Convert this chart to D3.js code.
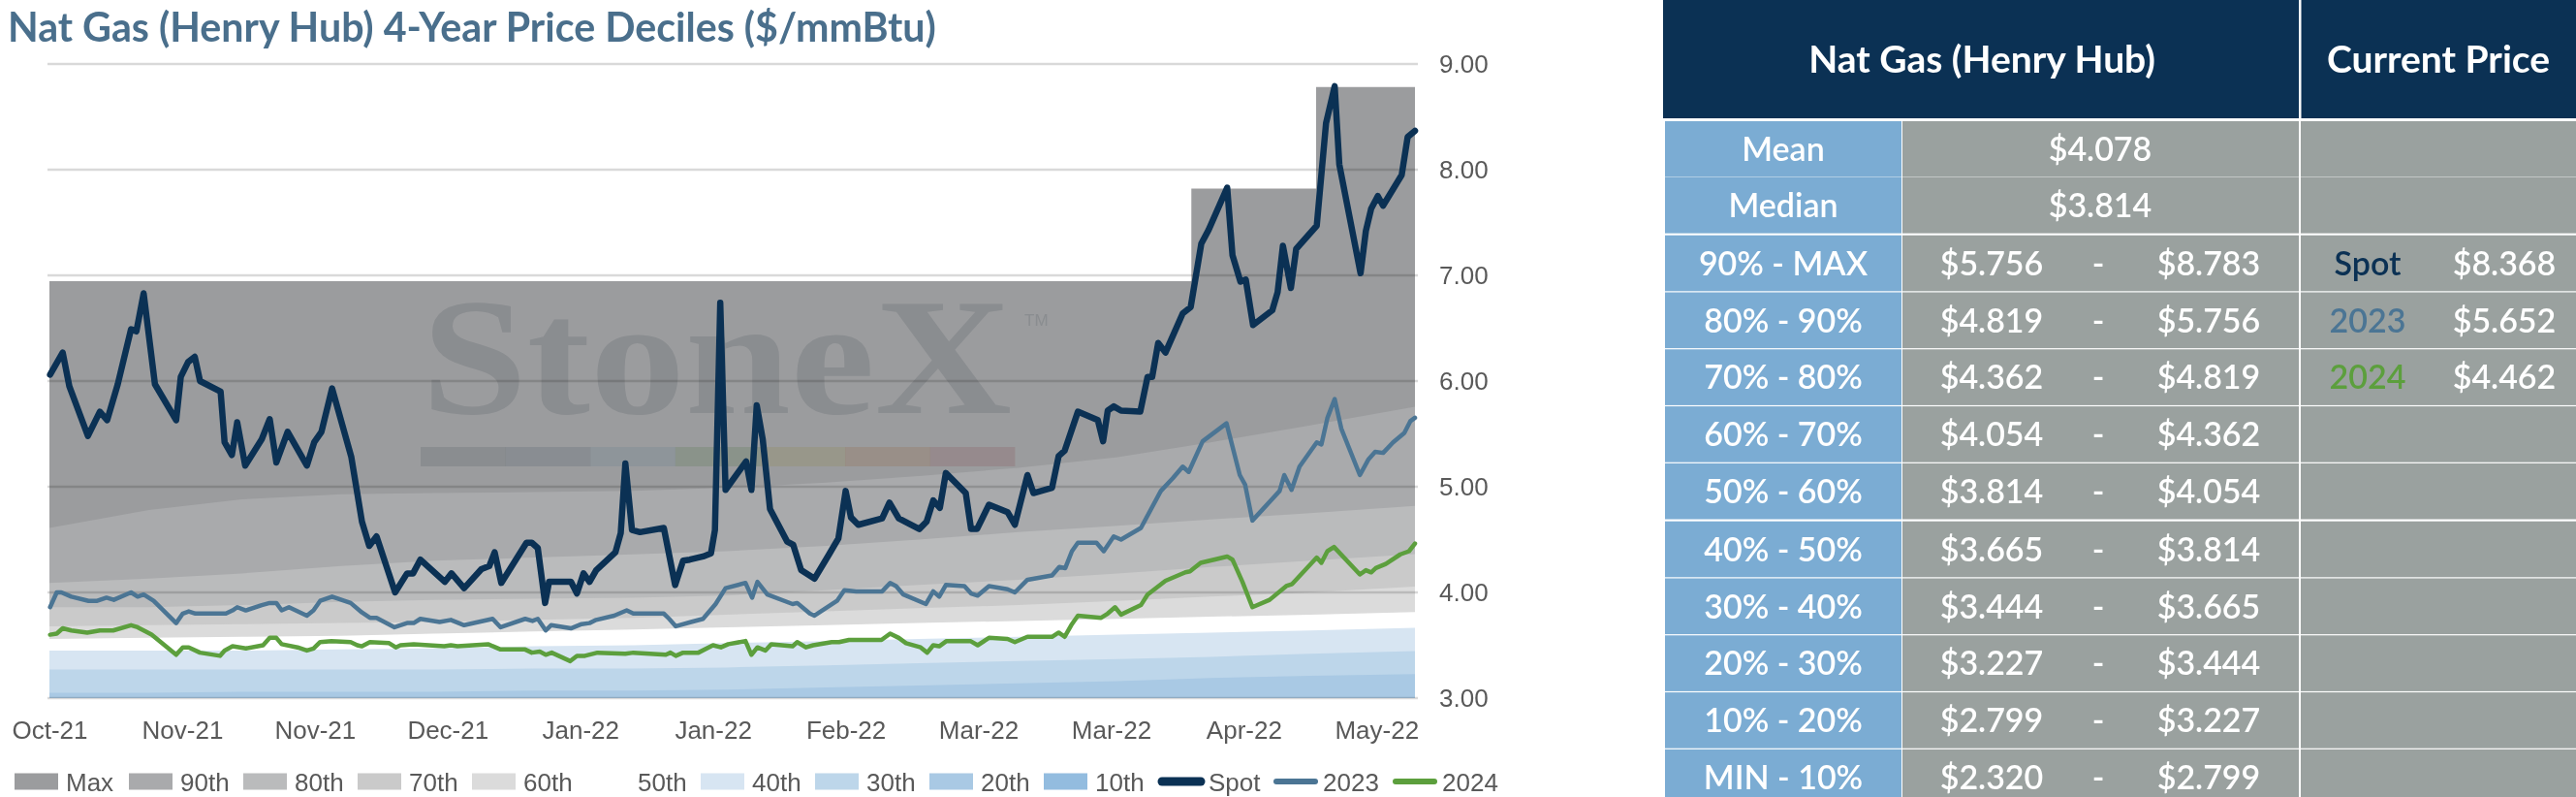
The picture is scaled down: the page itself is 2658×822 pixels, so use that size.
<!DOCTYPE html>
<html><head><meta charset="utf-8">
<script src="https://cdn.jsdelivr.net/npm/d3@7"></script>
<style>
body{margin:0;background:#fff;}
svg{display:block;}
.mult{mix-blend-mode:multiply;}
</style></head>
<body>
<svg id="c" width="2658" height="822"></svg>
<script>
// ---------------- DATA ----------------
const titleText = "Nat Gas (Henry Hub) 4-Year Price Deciles ($/mmBtu)";
const xTickDays = [0,20,40,60,80,100,120,140,160,180,200];
const xTickLabels = ["Oct-21","Nov-21","Nov-21","Dec-21","Jan-22","Jan-22","Feb-22","Mar-22","Mar-22","Apr-22","May-22"];
const yTicks = [3,4,5,6,7,8,9];
const dayEnd = 205.8;

// rolling max (step)
const maxDays = [0,172.1,190.9,205.8];
const maxVals = [6.945,7.82,8.783,8.783];

// rolling decile boundaries
const bandDays = [0,15,29,44,58,73,88,102,117,131,146,161,175,190,205.8];
const p90 = [4.61,4.78,4.88,4.93,4.94,4.95,4.96,4.99,5.04,5.10,5.18,5.28,5.42,5.58,5.756];
const p80 = [4.09,4.13,4.18,4.25,4.30,4.33,4.36,4.39,4.44,4.50,4.57,4.63,4.69,4.75,4.819];
const p70 = [3.86,3.86,3.88,3.91,3.93,3.94,3.95,3.97,4.02,4.07,4.12,4.18,4.24,4.30,4.362];
const p60 = [3.68,3.69,3.70,3.71,3.72,3.74,3.76,3.79,3.82,3.85,3.88,3.92,3.96,4.00,4.054];
const p50 = [3.56,3.57,3.58,3.59,3.61,3.63,3.65,3.67,3.69,3.71,3.73,3.75,3.77,3.79,3.814];
const p40 = [3.45,3.45,3.45,3.46,3.47,3.49,3.50,3.52,3.54,3.56,3.58,3.60,3.62,3.64,3.665];
const p30 = [3.27,3.27,3.27,3.27,3.27,3.28,3.28,3.29,3.31,3.33,3.35,3.37,3.39,3.42,3.444];
const p20 = [3.05,3.05,3.06,3.06,3.06,3.07,3.07,3.08,3.10,3.12,3.14,3.16,3.19,3.21,3.227];

// [day, price]
const spot = [[0.1,6.06],[2.0,6.27],[3.0,5.95],[5.8,5.48],[7.6,5.71],[8.7,5.63],[10.3,5.97],[12.3,6.49],[13.1,6.47],[14.2,6.83],[15.9,5.97],[19.1,5.63],[19.8,6.04],[20.9,6.18],[21.9,6.23],[22.7,6.00],[25.8,5.90],[26.4,5.42],[27.5,5.30],[28.3,5.61],[29.5,5.20],[32.0,5.45],[33.2,5.64],[34.2,5.23],[35.9,5.52],[38.8,5.20],[39.9,5.42],[41.0,5.52],[42.6,5.93],[45.5,5.28],[47.1,4.67],[48.2,4.44],[49.3,4.53],[52.1,4.00],[53.9,4.18],[54.8,4.18],[55.9,4.31],[59.6,4.10],[60.6,4.18],[62.5,4.04],[65.1,4.22],[66.3,4.25],[67.1,4.38],[68.1,4.09],[71.9,4.47],[72.7,4.47],[73.6,4.42],[74.7,3.90],[75.3,4.10],[78.6,4.10],[79.5,3.99],[80.5,4.18],[81.4,4.10],[82.4,4.21],[85.3,4.38],[86.1,4.56],[86.8,5.22],[87.8,4.59],[89.0,4.57],[92.6,4.61],[94.3,4.07],[95.5,4.30],[96.5,4.31],[98.5,4.34],[99.7,4.37],[100.3,4.59],[101.1,6.74],[101.9,4.97],[105.0,5.24],[105.8,4.97],[106.6,5.77],[107.5,5.45],[108.6,4.79],[111.2,4.48],[112.1,4.45],[113.3,4.21],[115.3,4.13],[117.5,4.36],[118.9,4.51],[120.0,4.96],[120.8,4.71],[121.9,4.64],[125.5,4.70],[126.6,4.85],[128.0,4.70],[131.1,4.60],[132.2,4.67],[133.2,4.87],[134.2,4.80],[135.1,5.13],[138.1,4.94],[138.9,4.60],[139.8,4.60],[141.6,4.83],[144.4,4.76],[145.5,4.64],[147.4,5.11],[148.3,4.94],[151.1,4.99],[152.1,5.29],[153.0,5.34],[155.0,5.71],[158.0,5.63],[158.8,5.43],[159.5,5.72],[160.4,5.76],[161.5,5.72],[164.4,5.71],[165.5,6.04],[166.2,6.04],[167.1,6.36],[168.2,6.27],[170.8,6.64],[172.0,6.70],[173.6,7.30],[174.7,7.43],[177.5,7.83],[178.3,7.19],[179.5,6.94],[180.3,6.96],[181.4,6.53],[184.3,6.67],[185.1,6.84],[185.9,7.28],[187.1,6.88],[187.9,7.25],[191.0,7.47],[192.4,8.44],[193.7,8.79],[194.4,8.05],[197.6,7.02],[198.4,7.42],[199.2,7.63],[200.2,7.75],[201.0,7.66],[203.8,7.95],[204.7,8.31],[205.8,8.368]];

const strip2023 = [[0.1,3.86],[1.1,4.00],[1.8,4.00],[3.3,3.96],[5.9,3.92],[7.2,3.92],[8.6,3.95],[9.7,3.93],[12.3,4.00],[13.3,3.96],[14.2,3.98],[15.7,3.92],[19.1,3.71],[20.1,3.80],[21.0,3.82],[22.0,3.80],[26.6,3.80],[27.6,3.83],[28.3,3.86],[29.6,3.83],[32.0,3.88],[33.2,3.90],[34.2,3.90],[35.0,3.83],[36.1,3.86],[38.8,3.78],[39.8,3.83],[40.8,3.92],[42.6,3.96],[45.4,3.90],[47.1,3.81],[48.3,3.76],[49.3,3.76],[52.0,3.67],[53.9,3.71],[54.9,3.71],[55.9,3.75],[58.8,3.72],[60.5,3.74],[62.5,3.69],[66.8,3.75],[68.0,3.67],[71.7,3.75],[72.8,3.73],[73.6,3.75],[74.8,3.64],[75.6,3.69],[78.6,3.66],[80.2,3.70],[81.4,3.71],[82.4,3.74],[85.1,3.78],[87.0,3.83],[88.0,3.80],[92.6,3.80],[93.4,3.75],[94.4,3.68],[96.7,3.72],[98.5,3.75],[100.4,3.89],[101.9,4.04],[104.9,4.09],[105.9,3.95],[106.7,4.10],[108.2,3.98],[112.0,3.89],[112.7,3.90],[114.6,3.80],[115.3,3.78],[118.7,3.92],[119.8,4.02],[121.6,4.01],[125.5,4.01],[126.7,4.09],[127.6,4.06],[128.7,3.98],[132.1,3.89],[133.2,4.01],[134.1,3.96],[135.1,4.07],[137.9,4.06],[138.9,3.99],[139.9,3.97],[141.6,4.06],[144.4,4.03],[145.5,4.00],[147.4,4.12],[151.1,4.16],[152.2,4.24],[153.1,4.23],[154.1,4.39],[155.0,4.47],[157.8,4.47],[158.9,4.39],[160.4,4.53],[161.5,4.50],[164.5,4.61],[167.5,4.96],[169.3,5.08],[170.8,5.19],[171.7,5.14],[173.8,5.43],[177.4,5.60],[179.4,5.11],[180.2,5.02],[181.3,4.68],[185.4,4.96],[186.1,5.11],[187.2,4.97],[188.4,5.19],[191.0,5.42],[191.7,5.40],[192.6,5.65],[193.7,5.83],[194.7,5.55],[197.5,5.11],[198.8,5.26],[199.8,5.33],[201.0,5.32],[202.5,5.42],[204.2,5.51],[205.1,5.62],[205.8,5.652]];

const strip2024 = [[0.1,3.60],[1.1,3.61],[2.0,3.66],[3.3,3.64],[5.7,3.62],[7.6,3.64],[9.6,3.64],[12.3,3.69],[13.3,3.67],[15.4,3.60],[19.1,3.41],[20.1,3.48],[21.0,3.48],[22.7,3.43],[25.7,3.40],[26.4,3.45],[27.6,3.49],[29.6,3.47],[32.2,3.50],[33.2,3.57],[34.2,3.57],[35.0,3.51],[37.4,3.48],[38.8,3.45],[39.8,3.47],[40.8,3.53],[42.5,3.54],[45.4,3.53],[46.4,3.50],[47.1,3.49],[48.3,3.53],[51.2,3.52],[52.2,3.48],[52.9,3.50],[54.9,3.51],[59.5,3.49],[60.5,3.50],[61.5,3.49],[66.1,3.51],[68.0,3.46],[71.7,3.46],[72.7,3.43],[73.9,3.44],[74.8,3.41],[75.7,3.43],[78.5,3.35],[79.5,3.40],[80.7,3.40],[82.6,3.43],[86.8,3.42],[88.0,3.43],[92.9,3.41],[93.6,3.43],[94.4,3.40],[95.5,3.43],[97.8,3.43],[100.0,3.50],[101.2,3.48],[102.3,3.51],[104.9,3.54],[105.8,3.41],[106.7,3.48],[107.9,3.45],[108.8,3.51],[112.0,3.49],[112.7,3.53],[114.0,3.48],[115.1,3.50],[117.9,3.53],[119.0,3.53],[120.5,3.55],[125.4,3.55],[126.7,3.61],[128.0,3.57],[129.1,3.52],[131.3,3.48],[132.3,3.43],[133.2,3.50],[134.1,3.49],[135.2,3.54],[138.8,3.54],[139.9,3.50],[141.6,3.57],[144.4,3.56],[145.5,3.53],[147.4,3.58],[151.1,3.58],[152.1,3.62],[153.0,3.58],[154.1,3.70],[155.0,3.78],[158.5,3.76],[159.5,3.80],[160.6,3.86],[161.5,3.79],[164.5,3.88],[165.5,3.98],[168.2,4.11],[171.2,4.19],[171.9,4.20],[173.5,4.28],[177.5,4.34],[178.3,4.31],[179.8,4.10],[181.3,3.86],[183.9,3.93],[186.4,4.06],[187.3,4.08],[191.0,4.33],[191.7,4.28],[192.6,4.39],[193.6,4.43],[197.5,4.17],[198.4,4.21],[199.2,4.19],[199.9,4.23],[201.4,4.27],[203.6,4.36],[204.9,4.39],[205.8,4.462]];

// legend
const legendNames = ["Max","90th","80th","70th","60th","50th","40th","30th","20th","10th","Spot","2023","2024"];

// table
const tableHeader = ["Nat Gas (Henry Hub)","Current Price"];
const statLabels = ["Mean","Median"];
const statValues = [4.078,3.814];
const decileLabels = ["90% - MAX","80% - 90%","70% - 80%","60% - 70%","50% - 60%","40% - 50%","30% - 40%","20% - 30%","10% - 20%","MIN - 10%"];
const decileLow  = [5.756,4.819,4.362,4.054,3.814,3.665,3.444,3.227,2.799,2.320];
const decileHigh = [8.783,5.756,4.819,4.362,4.054,3.814,3.665,3.444,3.227,2.799];
const currentNames = ["Spot","2023","2024"];
const currentValues = [8.368,5.652,4.462];

// ---------------- STYLE ----------------
const colors = {
  Max:"#9b9c9e","90th":"#a9aaac","80th":"#babbbc","70th":"#cacaca","60th":"#dbdbdb",
  "50th":"#ffffff","40th":"#d7e5f2","30th":"#bdd6ea","20th":"#a9c9e4","10th":"#93bcdf",
  Spot:"#0b3154","2023":"#4b7594","2024":"#5c9f3d"
};
const axisFont = "'Liberation Sans', Arial, sans-serif";
const tblFont = "Lato, 'Open Sans', sans-serif";

const W=2658, H=822;
const svg = d3.select("#c");
svg.append("rect").attr("width",W).attr("height",H).attr("fill","#fff");

const plot = {left:51,right:1460,top:66,bottom:720};
const x = d3.scaleLinear().domain([0,dayEnd]).range([plot.left,plot.right]);
const y = d3.scaleLinear().domain([3,9]).range([plot.bottom,plot.top]);

// title
const title = svg.append("text").attr("x",8).attr("y",43)
  .attr("font-family",tblFont).attr("font-weight",700).attr("font-size",40)
  .attr("fill","#4a6f8c").text(titleText);
const tl = title.node().getComputedTextLength();
title.attr("font-size",40*958/tl);

// clip
svg.append("defs").append("clipPath").attr("id","pc").append("rect")
  .attr("x",plot.left).attr("y",plot.top-20).attr("width",plot.right-plot.left).attr("height",plot.bottom-plot.top+20);

const gb = svg.append("g").attr("clip-path","url(#pc)");
const areaStep = d3.area().x(d=>x(d[0])).y0(y(3)).y1(d=>y(d[1])).curve(d3.curveStepAfter);
gb.append("path").datum(d3.zip(maxDays,maxVals)).attr("d",areaStep).attr("fill",colors.Max);
const area = d3.area().x(d=>x(d[0])).y0(y(3)).y1(d=>y(d[1]));
[["90th",p90],["80th",p80],["70th",p70],["60th",p60],["50th",p50],["40th",p40],["30th",p30],["20th",p20]]
  .forEach(([k,arr])=>{
    gb.append("path").datum(d3.zip(bandDays,arr)).attr("d",area).attr("fill",colors[k]);
  });

// gridlines (multiply so they show through bands)
svg.append("g").selectAll("line").data(yTicks).join("line")
  .attr("class","mult")
  .attr("x1",plot.left-2).attr("x2",plot.right+3)
  .attr("y1",d=>y(d)).attr("y2",d=>y(d))
  .attr("stroke","#d9d9d9").attr("stroke-width",2.5);

// watermark
const wm = svg.append("g");
wm.append("text").attr("class","mult").attr("x",435).attr("y",426)
  .attr("font-family","'Liberation Serif','DejaVu Serif',serif").attr("font-weight",700)
  .attr("font-size",171).attr("textLength",609).attr("lengthAdjust","spacingAndGlyphs")
  .attr("fill","#e3e6e8").text("StoneX");
wm.append("text").attr("class","mult").attr("x",1057).attr("y",336)
  .attr("font-family",axisFont).attr("font-size",17).attr("fill","#e3e6e8").text("TM");
const wmBar = ["#e3e6e8","#e2e6eb","#eaf4f9","#e3f0df","#faf7df","#fceadb","#f7e2e4"];
wm.selectAll("rect").data(wmBar).join("rect").attr("class","mult")
  .attr("x",(d,i)=>434+i*87.6).attr("y",461).attr("width",87.8).attr("height",20).attr("fill",d=>d);

// series lines
const line = d3.line().x(d=>x(d[0])).y(d=>y(d[1]));
const gl = svg.append("g").attr("fill","none").attr("stroke-linejoin","round").attr("stroke-linecap","round");
gl.append("path").datum(strip2024).attr("d",line).attr("stroke",colors["2024"]).attr("stroke-width",4.5);
gl.append("path").datum(strip2023).attr("d",line).attr("stroke",colors["2023"]).attr("stroke-width",4.5);
gl.append("path").datum(spot).attr("d",line).attr("stroke",colors.Spot).attr("stroke-width",6.5);

// y axis
const ya = svg.append("g").attr("transform","translate(1485,0)")
  .call(d3.axisRight(y).tickValues(yTicks).tickFormat(d3.format(".2f")).tickSize(0).tickPadding(0));
ya.select(".domain").remove();
ya.selectAll("text").attr("font-family",axisFont).attr("font-size",26).attr("fill","#595959");

// x axis
const xa = svg.append("g").attr("transform","translate(0,744)")
  .call(d3.axisBottom(x).tickValues(xTickDays).tickFormat((d,i)=>xTickLabels[i]).tickSize(0).tickPadding(0));
xa.select(".domain").remove();
xa.selectAll("text").attr("font-family",axisFont).attr("font-size",26).attr("fill","#595959");

// legend
const lg = svg.append("g");
const li = lg.selectAll("g").data(legendNames).join("g")
  .attr("transform",(d,i)=>`translate(${15+i*118+(i===12?5:0)},806)`);
li.each(function(d,i){
  const s = d3.select(this);
  if(i<10){
    s.append("rect").attr("x",0).attr("y",-8.5).attr("width",45).attr("height",17).attr("fill",colors[d]);
  } else {
    s.append("line").attr("x1",4).attr("x2",44).attr("y1",0).attr("y2",0)
      .attr("stroke",colors[d]).attr("stroke-width",d==="Spot"?9:6).attr("stroke-linecap","round");
  }
  s.append("text").attr("x",i<10?53:52).attr("y",9.5).attr("font-family",axisFont)
    .attr("font-size",26).attr("fill","#595959").text(d);
});

// ---------------- TABLE ----------------
const T = {left:1716, labL:1718, labR:1962, valR:2372, curL:2374, right:2658};
const tg = svg.append("g").attr("font-family",tblFont);
tg.append("rect").attr("x",T.left).attr("y",0).attr("width",T.right-T.left).attr("height",122).attr("fill","#0b3154");
tg.append("rect").attr("x",T.valR).attr("y",0).attr("width",2.5).attr("height",122).attr("fill","#fff");
tg.append("text").attr("x",(T.labL+T.valR)/2).attr("y",75).attr("text-anchor","middle")
  .attr("font-size",39).attr("font-weight",700).attr("fill","#fff").text(tableHeader[0]);
tg.append("text").attr("x",(T.curL+T.right)/2).attr("y",75).attr("text-anchor","middle")
  .attr("font-size",39).attr("font-weight",700).attr("fill","#fff").text(tableHeader[1]);

function rowTop(i){
  if(i<2) return 125 + i*58;
  if(i<7) return 242.7 + (i-2)*58.8;
  return 537.7 + (i-7)*58.8;
}
const rowH = 57.6;
const fmt = d=>"$"+d3.format(".3f")(d);
const labels = statLabels.concat(decileLabels);
labels.forEach((lab,i)=>{
  const t = rowTop(i);
  tg.append("rect").attr("x",T.labL).attr("y",t).attr("width",T.labR-T.labL).attr("height",rowH).attr("fill","#7bacd3");
  tg.append("rect").attr("x",T.labR+1).attr("y",t).attr("width",T.valR-T.labR-1).attr("height",rowH).attr("fill","#9aa19f");
  tg.append("rect").attr("x",T.curL).attr("y",t).attr("width",T.right-T.curL).attr("height",rowH).attr("fill","#9aa19f");
  const by = t+41;
  const txt = (xx,s,col,anchor)=>tg.append("text").attr("x",xx).attr("y",by).attr("text-anchor",anchor||"middle")
     .attr("font-size",34).attr("font-weight",600).attr("fill",col||"#fff").text(s);
  txt((T.labL+T.labR)/2, lab);
  if(i<2){
    txt((T.labR+T.valR)/2, fmt(statValues[i]));
  } else {
    const k=i-2;
    txt(2055, fmt(decileLow[k]));
    txt(2165, "-");
    txt(2279, fmt(decileHigh[k]));
    if(k<3){
      txt(2443, currentNames[k], colors[currentNames[k]]);
      txt(2584, fmt(currentValues[k]));
    }
  }
});
</script>
</body></html>
